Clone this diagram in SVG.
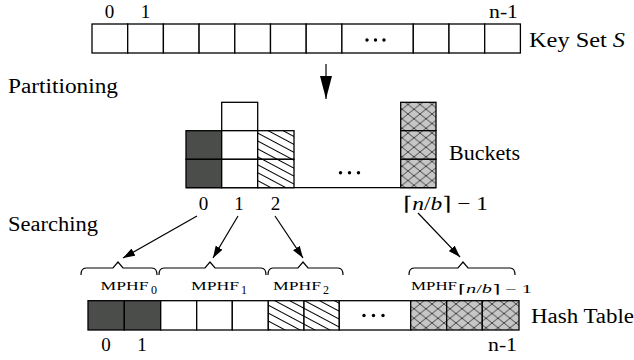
<svg xmlns="http://www.w3.org/2000/svg" width="634" height="360" viewBox="0 0 634 360">
  <style>
    text { font-family: "Liberation Serif", "Times New Roman", "DejaVu Serif", serif; fill: #000; }
    .t { font-size: 19px; }
    .w { font-size: 20px; }
    .sc { font-size: 11.5px; }
    .sub { font-size: 12px; }
    .cell { fill: #fff; stroke: #000; stroke-width: 1.3; }
    .dark { fill: #4b4d4b; stroke: #000; stroke-width: 1.3; }
    .hatch { fill: url(#hatch); stroke: #000; stroke-width: 1.3; }
    .cross { fill: url(#cross); stroke: #000; stroke-width: 1.3; }
    .conn { stroke: #000; stroke-width: 1.2; fill: none; }
    .brace { stroke: #000; stroke-width: 1.2; fill: none; stroke-linejoin: miter; }
    .dot { fill: #000; }
  </style>
  <defs>
    <pattern id="hatch" patternUnits="userSpaceOnUse" width="12" height="7" patternTransform="rotate(28)">
      <rect width="12" height="7" fill="#fff"/>
      <line x1="0" y1="3.5" x2="12" y2="3.5" stroke="#000" stroke-width="1"/>
    </pattern>
    <pattern id="cross" patternUnits="userSpaceOnUse" width="12" height="9.5">
      <rect width="12" height="9.5" fill="#c6c6c6"/>
      <path d="M0 0 L12 9.5 M0 9.5 L12 0" stroke="#222" stroke-width="0.8" fill="none"/>
    </pattern>
    <marker id="head" viewBox="0 0 12 8" refX="12" refY="4" markerWidth="12" markerHeight="8" markerUnits="userSpaceOnUse" orient="auto">
      <path d="M0 0 L12 4 L0 8 Z" fill="#000"/>
    </marker>
    <marker id="bighead" viewBox="0 0 23 12" refX="23" refY="6" markerWidth="23" markerHeight="12" markerUnits="userSpaceOnUse" orient="auto">
      <path d="M0 0 L23 6 L0 12 Z" fill="#000"/>
    </marker>
  </defs>

  <!-- key set S -->
  <g id="keyset">
    <rect class="cell" x="92" y="24" width="35.7" height="29"/>
    <rect class="cell" x="127.7" y="24" width="35.7" height="29"/>
    <rect class="cell" x="163.4" y="24" width="35.7" height="29"/>
    <rect class="cell" x="199.1" y="24" width="35.7" height="29"/>
    <rect class="cell" x="234.8" y="24" width="35.7" height="29"/>
    <rect class="cell" x="270.5" y="24" width="35.7" height="29"/>
    <rect class="cell" x="306.2" y="24" width="35.7" height="29"/>
    <rect class="cell" x="341.9" y="24" width="71.4" height="29"/>
    <rect class="cell" x="413.3" y="24" width="35.7" height="29"/>
    <rect class="cell" x="449" y="24" width="35.7" height="29"/>
    <rect class="cell" x="484.7" y="24" width="35.7" height="29"/>
    <circle class="dot" cx="367" cy="40" r="1.7"/>
    <circle class="dot" cx="375.5" cy="40" r="1.7"/>
    <circle class="dot" cx="384" cy="40" r="1.7"/>
    <text class="t" x="109.5" y="18" text-anchor="middle">0</text>
    <text class="t" x="145.5" y="18" text-anchor="middle">1</text>
    <text class="t" x="489" y="18" textLength="29" lengthAdjust="spacingAndGlyphs">n-1</text>
    <text class="w" x="529" y="46.5" textLength="96" lengthAdjust="spacingAndGlyphs">Key Set <tspan font-style="italic">S</tspan></text>
  </g>

  <text class="w" x="8" y="93" textLength="110" lengthAdjust="spacingAndGlyphs">Partitioning</text>
  <text class="w" x="8" y="231" textLength="90" lengthAdjust="spacingAndGlyphs">Searching</text>

  <!-- buckets -->
  <g id="buckets">
    <line x1="186" y1="187.7" x2="436" y2="187.7" stroke="#000" stroke-width="1.3"/>
    <rect class="dark" x="186" y="130.7" width="35.7" height="28.6"/>
    <rect class="dark" x="186" y="159.3" width="35.7" height="28.4"/>
    <rect class="cell" x="221.7" y="102.3" width="36" height="28.4"/>
    <rect class="cell" x="221.7" y="130.7" width="36" height="28.6"/>
    <rect class="cell" x="221.7" y="159.3" width="36" height="28.4"/>
    <rect class="hatch" x="257.7" y="130.7" width="36.3" height="28.6"/>
    <rect class="hatch" x="257.7" y="159.3" width="36.3" height="28.4"/>
    <rect class="cross" x="400.7" y="102.3" width="35.3" height="28.4"/>
    <rect class="cross" x="400.7" y="130.7" width="35.3" height="28.6"/>
    <rect class="cross" x="400.7" y="159.3" width="35.3" height="28.4"/>
    <circle class="dot" cx="340.5" cy="172.7" r="1.7"/>
    <circle class="dot" cx="349.5" cy="172.7" r="1.7"/>
    <circle class="dot" cx="358.5" cy="172.7" r="1.7"/>
    <text class="w" x="449" y="160" textLength="71" lengthAdjust="spacingAndGlyphs">Buckets</text>
    <text class="t" x="203.5" y="210" text-anchor="middle">0</text>
    <text class="t" x="239" y="210" text-anchor="middle">1</text>
    <text class="t" x="275.5" y="210" text-anchor="middle">2</text>
    <text class="t" x="403" y="210" textLength="85" lengthAdjust="spacingAndGlyphs">⌈<tspan font-style="italic">n</tspan>/<tspan font-style="italic">b</tspan>⌉ − 1</text>
  </g>

  <!-- braces over hash table ranges -->
  <g id="braces">
    <path class="brace" d="M81 275 Q81 268 86 268 L113 268 L118 262 L123 268 L152 268 Q157 268 157 275"/>
    <path class="brace" d="M159 275 Q159 268 164 268 L205 268 L210 262 L215 268 L261 268 Q266 268 266 275"/>
    <path class="brace" d="M268 275 Q268 268 273 268 L298 268 L303 262 L308 268 L338 268 Q343 268 343 275"/>
    <path class="brace" d="M409 275 Q409 268 414 268 L458 268 L463 262 L468 268 L510 268 Q515 268 515 275"/>
  </g>

  <!-- MPHF labels -->
  <g id="mphf">
    <text class="sc" x="100.5" y="290" textLength="48" lengthAdjust="spacingAndGlyphs">MPHF</text>
    <text class="sub" x="151" y="294">0</text>
    <text class="sc" x="191" y="290" textLength="48" lengthAdjust="spacingAndGlyphs">MPHF</text>
    <text class="sub" x="241" y="294">1</text>
    <text class="sc" x="273" y="290" textLength="48" lengthAdjust="spacingAndGlyphs">MPHF</text>
    <text class="sub" x="323" y="294">2</text>
    <text class="sc" x="411" y="290" textLength="46" lengthAdjust="spacingAndGlyphs">MPHF</text>
    <text class="sub" x="458" y="293" textLength="74" lengthAdjust="spacingAndGlyphs">⌈<tspan font-style="italic">n</tspan>/<tspan font-style="italic">b</tspan>⌉ − 1</text>
  </g>

  <!-- hash table -->
  <g id="hashtable">
    <rect class="dark" x="88" y="300.7" width="36.3" height="29.3"/>
    <rect class="dark" x="124.3" y="300.7" width="36.4" height="29.3"/>
    <rect class="cell" x="160.7" y="300.7" width="36" height="29.3"/>
    <rect class="cell" x="196.7" y="300.7" width="35.6" height="29.3"/>
    <rect class="cell" x="232.3" y="300.7" width="36" height="29.3"/>
    <rect class="hatch" x="268.3" y="300.7" width="35.7" height="29.3"/>
    <rect class="hatch" x="304" y="300.7" width="35.3" height="29.3"/>
    <rect class="cell" x="339.3" y="300.7" width="71.4" height="29.3"/>
    <rect class="cross" x="410.7" y="300.7" width="36" height="29.3"/>
    <rect class="cross" x="446.7" y="300.7" width="35.6" height="29.3"/>
    <rect class="cross" x="482.3" y="300.7" width="36.7" height="29.3"/>
    <circle class="dot" cx="364" cy="315.5" r="1.7"/>
    <circle class="dot" cx="373.5" cy="315.5" r="1.7"/>
    <circle class="dot" cx="383" cy="315.5" r="1.7"/>
    <text class="w" x="531" y="323" textLength="103" lengthAdjust="spacingAndGlyphs">Hash Table</text>
    <text class="t" x="106" y="350.5" text-anchor="middle">0</text>
    <text class="t" x="142" y="350.5" text-anchor="middle">1</text>
    <text class="t" x="488" y="350.5" textLength="29" lengthAdjust="spacingAndGlyphs">n-1</text>
  </g>

  <!-- connectors -->
  <g id="connectors">
    <line class="conn" x1="326" y1="64" x2="326" y2="99" marker-end="url(#bighead)"/>
    <line class="conn" x1="197" y1="216" x2="123" y2="258" marker-end="url(#head)"/>
    <line class="conn" x1="238" y1="216" x2="213" y2="258" marker-end="url(#head)"/>
    <line class="conn" x1="275" y1="216" x2="303" y2="258" marker-end="url(#head)"/>
    <line class="conn" x1="418" y1="213" x2="460" y2="257" marker-end="url(#head)"/>
  </g>
</svg>
